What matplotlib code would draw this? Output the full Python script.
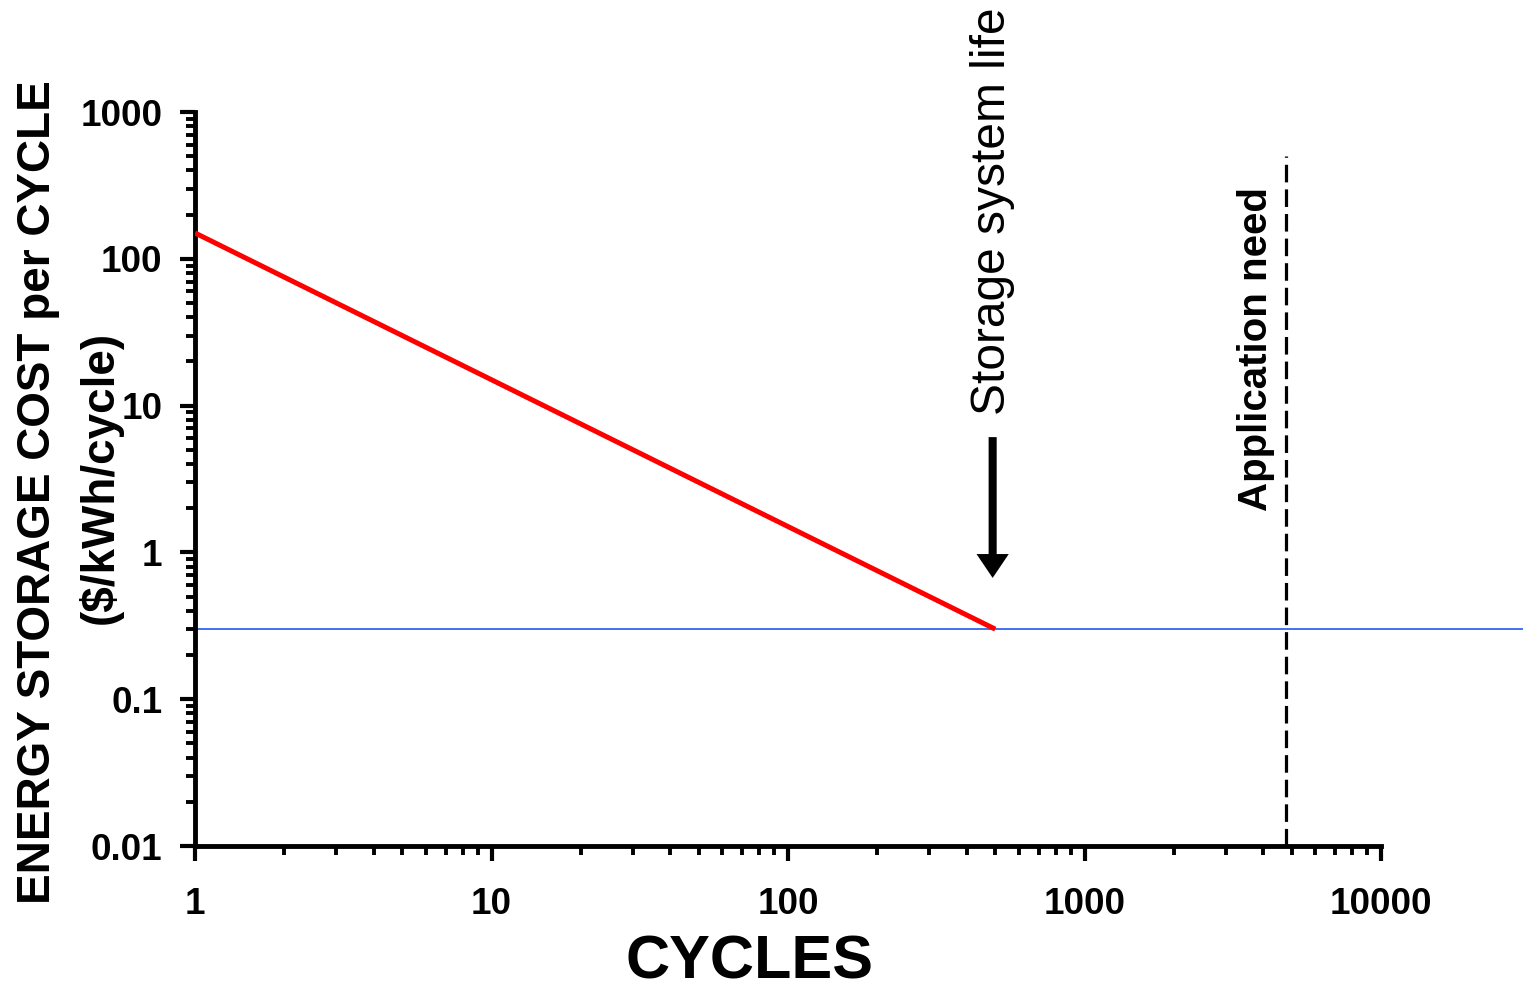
import matplotlib
matplotlib.use("Agg")
import matplotlib.pyplot as plt
from matplotlib.ticker import LogLocator, FixedLocator, NullFormatter

# ---- data ----
cycles = [1, 500]
cost_per_cycle = [150, 0.3]
target_cost = 0.3
target_span = [1, 40000]
app_need_cycles = 4800
app_need_span = [0.01, 500]
arrow_from = 6.1
arrow_to = 0.67
arrow_x = 490
x_ticks = [1, 10, 100, 1000, 10000]
x_tick_labels = ["1", "10", "100", "1000", "10000"]
y_ticks = [0.01, 0.1, 1, 10, 100, 1000]
y_tick_labels = ["0.01", "0.1", "1", "10", "100", "1000"]

plt.rcParams['font.family'] = ['Liberation Sans', 'DejaVu Sans']

fig = plt.figure(figsize=(15.23, 9.92), dpi=100)
ax = fig.add_axes([195/1523, (992-846)/992, (1381-195)/1523, (846-112)/992])

ax.set_xscale('log')
ax.set_yscale('log')
ax.set_xlim(1, 10000)
ax.set_ylim(0.01, 1000)

ax.plot(target_span, [target_cost, target_cost], color='#3366ee', lw=1.3,
        clip_on=False, zorder=2)
ax.plot(cycles, cost_per_cycle, color='#ff0000', lw=3.6, zorder=3,
        solid_capstyle='butt')
ax.plot([app_need_cycles, app_need_cycles], app_need_span, color='black',
        lw=2.3, dashes=(5.5, 2.2), zorder=2)

ax.annotate('', xy=(arrow_x, arrow_to), xytext=(arrow_x, arrow_from),
            arrowprops=dict(arrowstyle='simple,head_length=0.43,head_width=0.58,tail_width=0.145',
                            mutation_scale=40, color='black', lw=0,
                            shrinkA=0, shrinkB=0))

ax.text(arrow_x, 8.6, 'Storage system life', rotation=90, ha='center',
        va='bottom', fontsize=34.5, color='black')
ax.text(3800, 1.9, 'Application need', rotation=90, ha='center',
        va='bottom', fontsize=29, fontweight='bold', color='black')

for s in ['top', 'right']:
    ax.spines[s].set_visible(False)
for s in ['left', 'bottom']:
    ax.spines[s].set_linewidth(3.5)
    ax.spines[s].set_capstyle('projecting')

ax.xaxis.set_major_locator(FixedLocator(x_ticks))
ax.yaxis.set_major_locator(FixedLocator(y_ticks))
ax.xaxis.set_minor_locator(LogLocator(base=10, subs=range(2, 10), numticks=20))
ax.yaxis.set_minor_locator(LogLocator(base=10, subs=range(2, 10), numticks=20))
ax.xaxis.set_minor_formatter(NullFormatter())
ax.yaxis.set_minor_formatter(NullFormatter())
ax.set_xticklabels(x_tick_labels)
ax.set_yticklabels(y_tick_labels)

ax.tick_params(which='major', direction='out', length=10.5, width=3.0,
               labelsize=26.5)
ax.tick_params(which='minor', direction='out', length=6.5, width=2.8)
ax.tick_params(axis='x', which='major', pad=19)
ax.tick_params(axis='y', which='major', pad=13)
for lab in ax.get_xticklabels() + ax.get_yticklabels():
    lab.set_fontweight('bold')

fig.text(750/1523, 1 - 963/992, 'CYCLES', ha='center', va='center',
         fontsize=44, fontweight='bold')
fig.text(38/1523, 1 - 492/992, 'ENERGY STORAGE COST per CYCLE', rotation=90,
         ha='center', va='center', fontsize=33, fontweight='bold')
fig.text(100/1523, 1 - 477/992, '($/kWh/cycle)', rotation=90,
         ha='center', va='center', fontsize=33, fontweight='bold')

fig.savefig('out.png', dpi=100)
